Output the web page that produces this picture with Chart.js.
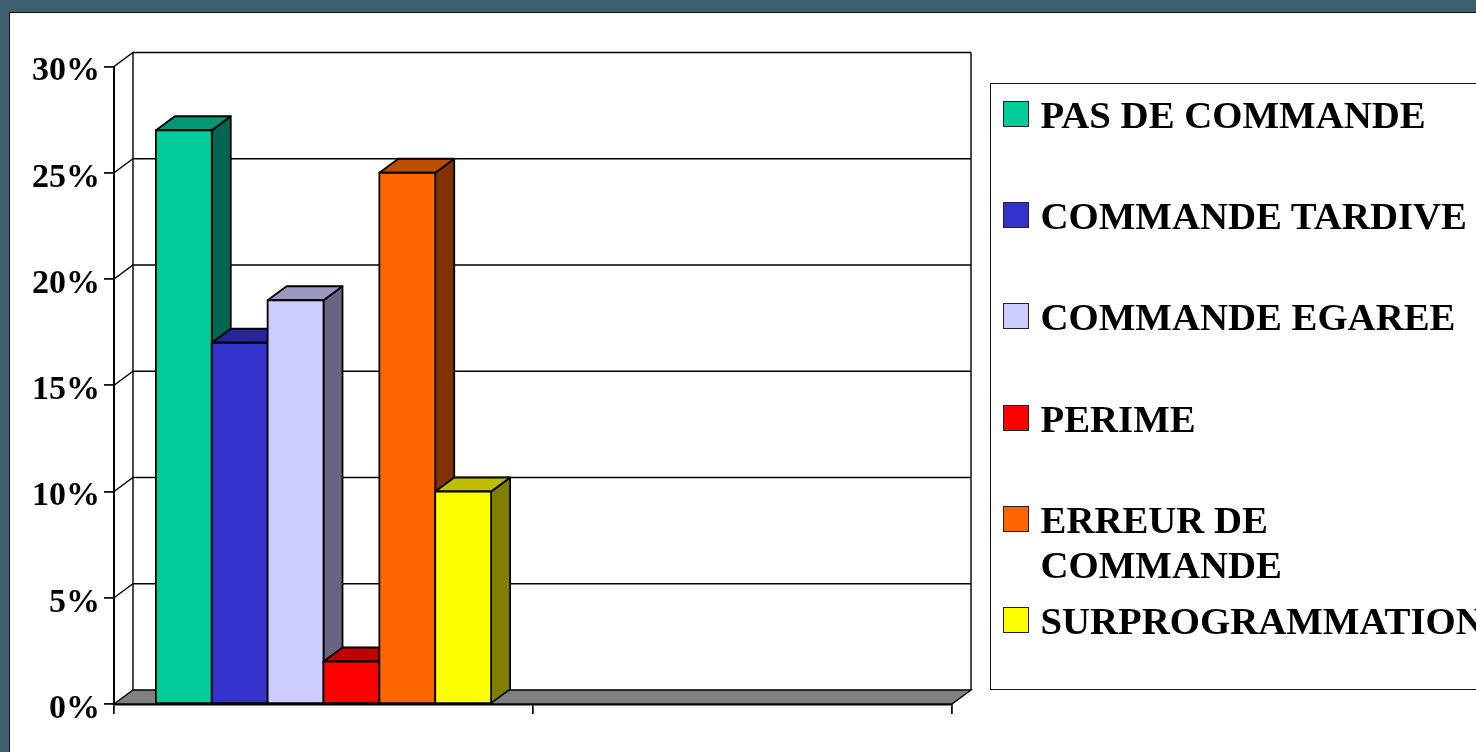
<!DOCTYPE html>
<html lang="fr">
<head>
<meta charset="UTF-8" />
<title>Causes</title>
<script src="https://cdn.jsdelivr.net/npm/chart.js"></script>
<style>
  html, body { margin: 0; height: 100%; overflow: hidden; background: #3e5f6d; }
  #panel { position: absolute; left: 9px; top: 11.5px; width: 1480px; height: 760px; background: #fff; border: 1.5px solid #111; box-sizing: border-box; }
  #chart { position: absolute; left: 0; top: 0; }
  #legend { position: absolute; left: 990px; top: 82.5px; width: 500px; height: 607.5px; border: 1.5px solid #111; box-sizing: border-box; font: bold 38.8px "Liberation Serif", serif; color: #000; }
  .row { position: absolute; left: 49.5px; white-space: pre-line; line-height: 45px; }
  .box { position: absolute; left: -38px; top: 9px; width: 26px; height: 26px; border: 1.5px solid #222; box-sizing: border-box; }
</style>
</head>
<body>
<div id="panel"></div>
<canvas id="chart" width="1476" height="752"></canvas>
<div id="legend"></div>
<script>
const categories = ['', ''];
const seriesNames = ['PAS DE COMMANDE', 'COMMANDE TARDIVE', 'COMMANDE EGAREE', 'PERIME', 'ERREUR DE\nCOMMANDE', 'SURPROGRAMMATION'];
const seriesValues = [[27, null], [17, null], [19, null], [2, null], [25, null], [10, null]];
const seriesColors = [[0, 204, 153], [51, 51, 204], [204, 204, 255], [255, 0, 0], [255, 102, 0], [255, 255, 0]];
const legendTops = [17, 118, 219, 321, 422, 523];

const DX = 19, DY = -14;
const rgb = (c, f) => `rgb(${c.map(v => Math.round(v * f)).join(',')})`;

function poly(ctx, pts, fill) {
  ctx.beginPath();
  pts.forEach((p, i) => i ? ctx.lineTo(p[0], p[1]) : ctx.moveTo(p[0], p[1]));
  ctx.closePath();
  if (fill) { ctx.fillStyle = fill; ctx.fill(); }
  ctx.stroke();
}

// back wall, floor and the gridlines sit behind the front plane
const walls = {
  id: 'walls',
  beforeDatasetsDraw(chart) {
    const { ctx, chartArea: a, scales: { y } } = chart;
    ctx.save();
    ctx.strokeStyle = '#000';
    ctx.lineWidth = 1.4;
    poly(ctx, [[a.left, a.bottom], [a.left + DX, a.bottom + DY], [a.right + DX, a.bottom + DY], [a.right, a.bottom]], '#808080');
    y.ticks.forEach(t => {
      const py = y.getPixelForValue(t.value);
      if (t.value === 0) return;
      ctx.beginPath();
      ctx.moveTo(a.left, py);
      ctx.lineTo(a.left + DX, py + DY);
      ctx.lineTo(a.right + DX, py + DY);
      ctx.stroke();
    });
    ctx.beginPath();
    ctx.moveTo(a.left + DX, a.bottom + DY);
    ctx.lineTo(a.left + DX, a.top + DY);
    ctx.moveTo(a.right + DX, a.top + DY);
    ctx.lineTo(a.right + DX, a.bottom + DY);
    ctx.stroke();
    ctx.restore();
  }
};

// bars are painted left to right so each front hides its neighbour's side
const bars3d = {
  id: 'bars3d',
  beforeDatasetsDraw(chart) {
    const ctx = chart.ctx;
    ctx.save();
    ctx.strokeStyle = '#000';
    ctx.lineWidth = 1.8;
    ctx.lineJoin = 'round';
    seriesValues.forEach((vals, i) => {
      const bar = chart.getDatasetMeta(i).data[0];
      const { x, y, base, width } = bar.getProps(['x', 'y', 'base', 'width']);
      const l = x - width / 2, r = x + width / 2;
      poly(ctx, [[r, y], [r + DX, y + DY], [r + DX, base + DY], [r, base]], rgb(seriesColors[i], 0.5));
      poly(ctx, [[l, y], [l + DX, y + DY], [r + DX, y + DY], [r, y]], rgb(seriesColors[i], 0.75));
      poly(ctx, [[l, y], [r, y], [r, base], [l, base]], rgb(seriesColors[i], 1));
    });
    ctx.restore();
    return false;
  }
};

new Chart(document.getElementById('chart'), {
  type: 'bar',
  data: {
    labels: categories,
    datasets: seriesNames.map((name, i) => ({
      label: name,
      data: seriesValues[i],
      backgroundColor: rgb(seriesColors[i], 1),
      categoryPercentage: 0.8,
      barPercentage: 1
    }))
  },
  options: {
    responsive: false,
    animation: false,
    events: [],
    layout: { padding: { top: 66.5, right: 524, left: 0, bottom: 0 } },
    plugins: { legend: { display: false }, tooltip: { enabled: false } },
    scales: {
      x: {
        afterFit(s) { s.height = 48; },
        grid: { offset: true, drawOnChartArea: false, tickLength: 10, color: '#111', lineWidth: 1.8 },
        border: { color: '#000', width: 2.5 },
        ticks: { display: false }
      },
      y: {
        min: 0,
        max: 30,
        afterFit(s) { s.width = 114; },
        grid: { drawOnChartArea: false, tickLength: 10, color: '#111', lineWidth: 1.8 },
        border: { color: '#000', width: 2 },
        ticks: {
          stepSize: 5,
          padding: 4,
          labelOffset: 5,
          color: '#000',
          font: { family: '"Liberation Serif", serif', size: 34, weight: 'bold' },
          callback: v => v + '%'
        }
      }
    }
  },
  plugins: [walls, bars3d]
});

// legend is laid out by hand: the original box runs off the right edge
const legend = document.getElementById('legend');
seriesNames.forEach((name, i) => {
  const row = document.createElement('div');
  row.className = 'row';
  row.style.top = legendTops[i] - 9 + 'px';
  row.textContent = name;
  const box = document.createElement('div');
  box.className = 'box';
  box.style.background = rgb(seriesColors[i], 1);
  row.appendChild(box);
  legend.appendChild(row);
});
</script>
</body>
</html>
